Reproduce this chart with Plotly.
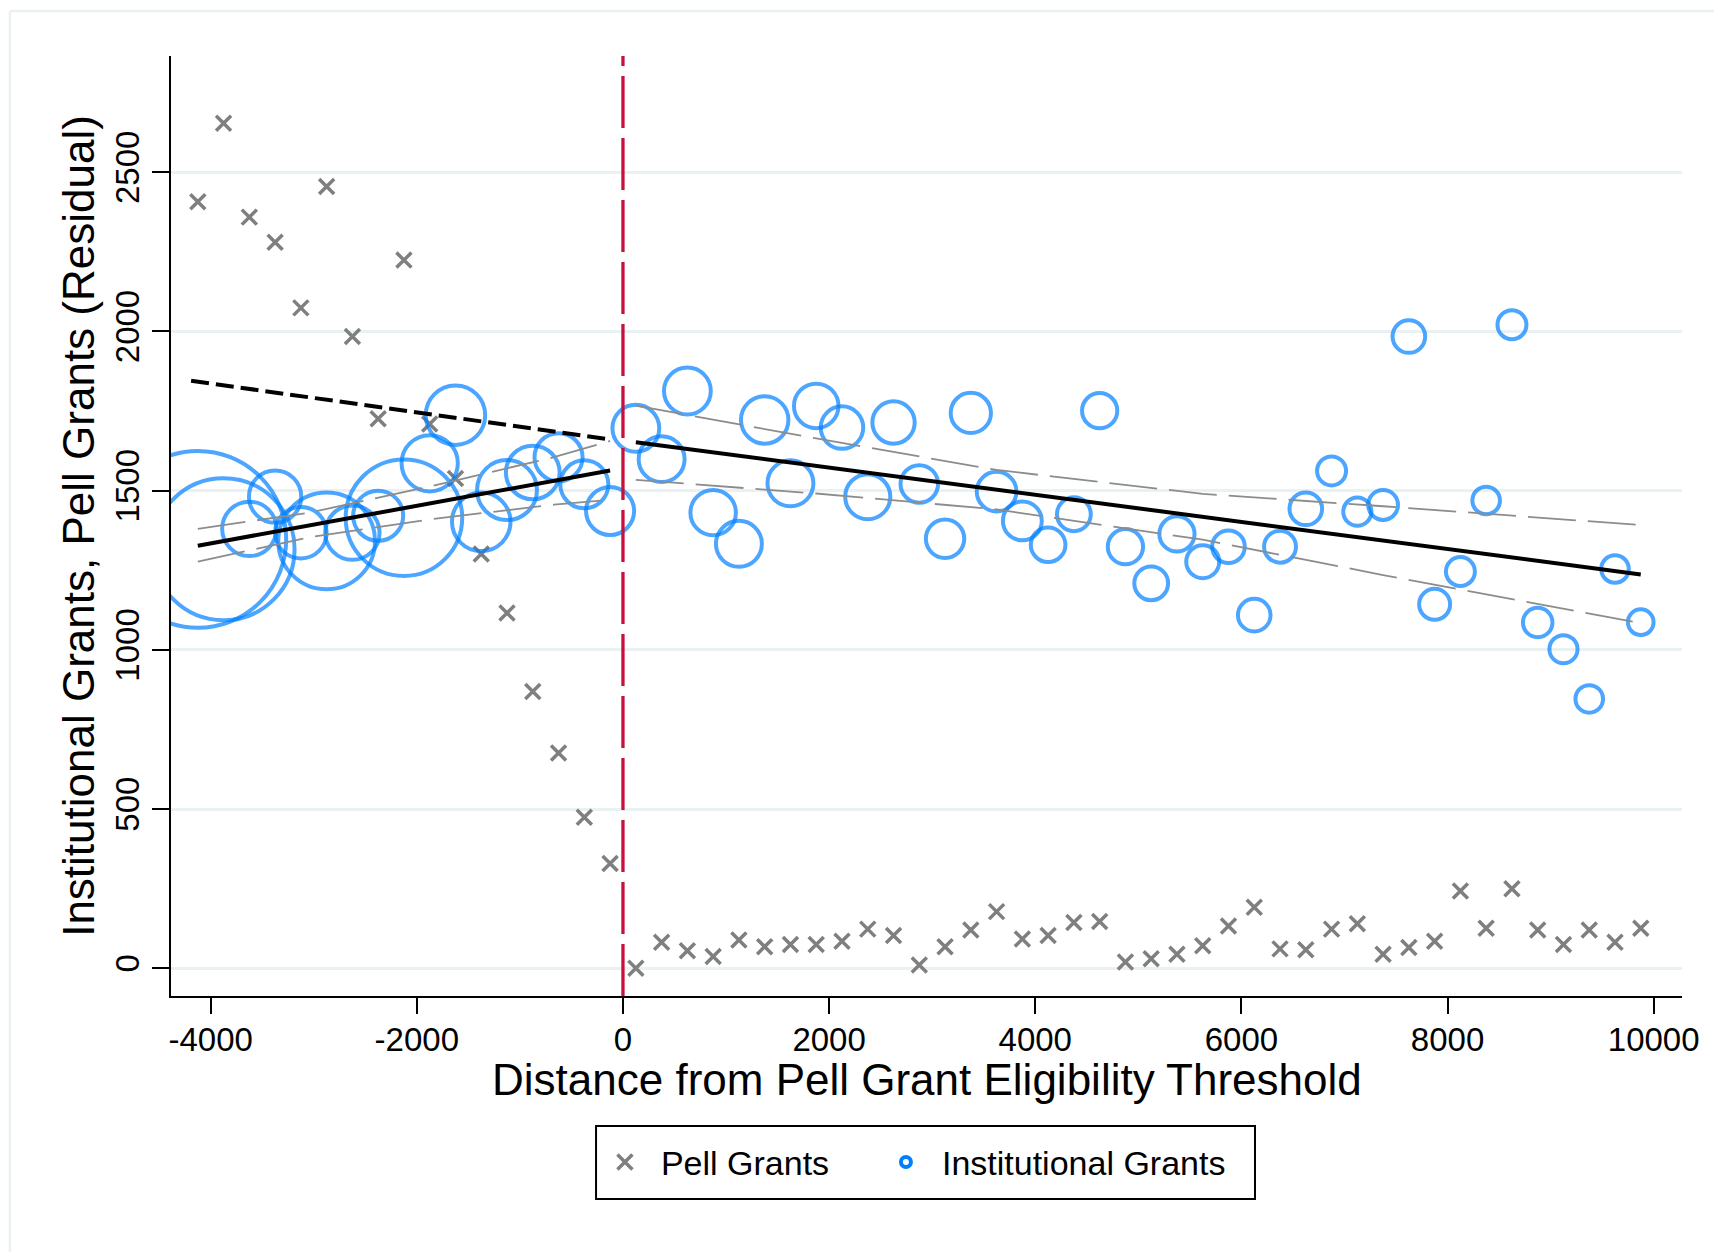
import plotly.graph_objects as go

# ---------------- data ----------------
bins_left = [-4125, -3875, -3625, -3375, -3125, -2875, -2625, -2375, -2125,
             -1875, -1625, -1375, -1125, -875, -625, -375, -125]
bins_right = [125, 375, 625, 875, 1125, 1375, 1625, 1875, 2125, 2375,
              2625, 2875, 3125, 3375, 3625, 3875, 4125, 4375, 4625, 4875,
              5125, 5375, 5625, 5875, 6125, 6375, 6625, 6875, 7125, 7375,
              7625, 7875, 8125, 8375, 8625, 8875, 9125, 9375, 9625, 9875]

pell_left = [2407, 2654, 2359, 2280, 2074, 2455, 1984, 1726, 2224,
             1709, 1538, 1301, 1116, 869, 676, 474, 329]
pell_right = [0, 82, 55, 37, 89, 68, 75, 75, 85, 123,
              103, 10, 68, 120, 178, 92, 103, 144, 147, 20,
              30, 44, 71, 133, 192, 61, 58, 123, 140, 44,
              65, 85, 243, 126, 250, 120, 75, 120, 82, 126]

inst_left = [1347, 1316, 1380, 1481, 1368, 1342, 1368, 1421, 1415,
             1586, 1737, 1402, 1502, 1557, 1605, 1520, 1436]
inst_right = [1696, 1599, 1813, 1431, 1333, 1722, 1523, 1766, 1698, 1481,
              1714, 1521, 1349, 1744, 1497, 1405, 1330, 1426, 1751, 1324,
              1209, 1364, 1277, 1324, 1109, 1324, 1443, 1562, 1434, 1455,
              1984, 1143, 1246, 1469, 2021, 1086, 1002, 846, 1254, 1087]

# relative bin weights (marker area)
w_left = [3906, 2520, 369, 342, 331, 1170, 369, 313, 1697,
          396, 441, 428, 449, 361, 289, 289, 289]
w_right = [274, 264, 274, 258, 264, 281, 264, 248, 226, 254,
           224, 176, 184, 203, 197, 189, 150, 143, 155, 155,
           143, 155, 136, 133, 133, 127, 133, 105, 99, 111,
           133, 120, 105, 95, 105, 109, 99, 95, 95, 82]

# linear fits and confidence bands
fit_left_x = [-4125, -125]
fit_left_y = [1327, 1563]
ci_left_x = [-4125, -3040, -1850, -670, -125]
ci_left_lo = [1277, 1354, 1411, 1456, 1471]
ci_left_hi = [1380, 1431, 1515, 1605, 1656]

fit_right_x = [125, 9875]
fit_right_y = [1652, 1237]
ci_right_x = [125, 1875, 3625, 5625, 7375, 9875]
ci_right_lo = [1534, 1491, 1441, 1346, 1235, 1084]
ci_right_hi = [1767, 1664, 1565, 1490, 1451, 1392]

# counterfactual (extrapolated right-side fit)
cf_x = [-4190, -125]
cf_y = [1845, 1661]

x_ticks = [-4000, -2000, 0, 2000, 4000, 6000, 8000, 10000]
x_ticktext = ["-4000", "-2000", "0", "2000", "4000", "6000", "8000", "10000"]
y_ticks = [0, 500, 1000, 1500, 2000, 2500]
y_ticktext = ["0", "500", "1000", "1500", "2000", "2500"]

# ---------------- styles ----------------
FONT = "Liberation Sans, Arial, sans-serif"
BLUE = "#0080FF"
GRAY = "#7F7F7F"
CIGRAY = "#8C8C8C"
RED = "#C8103C"
GRID = "#EAF1F3"

fig = go.Figure()

# Pell grants (x markers)
fig.add_trace(go.Scatter(
    x=bins_left + bins_right, y=pell_left + pell_right,
    mode="markers", name="Pell Grants", legendwidth=204,
    marker=dict(symbol="x-thin", size=15, color=GRAY,
                line=dict(width=3.5, color=GRAY)),
))

# Institutional grants (weighted hollow circles)
fig.add_trace(go.Scatter(
    x=bins_left + bins_right, y=inst_left + inst_right,
    mode="markers", name="Institutional Grants", showlegend=False,
    marker=dict(symbol="circle-open", size=w_left + w_right, sizemode="area",
                sizeref=0.25, color=BLUE, line=dict(width=4, color=BLUE)),
))
# legend key for the weighted circles (fixed-size symbol)
fig.add_trace(go.Scatter(
    x=[None], y=[None], mode="markers", name="Institutional Grants",
    legendwidth=295,
    marker=dict(symbol="circle-open", size=10, color=BLUE,
                line=dict(width=4, color=BLUE)),
))

# confidence bands
for xs, ys in [(ci_left_x, ci_left_lo), (ci_left_x, ci_left_hi),
               (ci_right_x, ci_right_lo), (ci_right_x, ci_right_hi)]:
    fig.add_trace(go.Scatter(x=xs, y=ys, mode="lines", showlegend=False,
                             hoverinfo="skip",
                             line=dict(color=CIGRAY, width=1.8, dash="48px,12px")))

# fits
fig.add_trace(go.Scatter(x=fit_left_x, y=fit_left_y, mode="lines", showlegend=False,
                         line=dict(color="black", width=4)))
fig.add_trace(go.Scatter(x=fit_right_x, y=fit_right_y, mode="lines", showlegend=False,
                         line=dict(color="black", width=4)))
fig.add_trace(go.Scatter(x=cf_x, y=cf_y, mode="lines", showlegend=False,
                         line=dict(color="black", width=4, dash="18px,7px")))

# threshold line
fig.add_shape(type="line", xref="x", yref="paper", x0=0, x1=0, y0=0, y1=1,
              line=dict(color=RED, width=3.3, dash="52px,10px"))

# outer graph-region frame (left + top edges visible)
fig.add_shape(type="line", xref="paper", yref="paper", x0=-0.1066, x1=-0.1066,
              y0=-0.4, y1=1.0479, line=dict(color=GRID, width=2.5))
fig.add_shape(type="line", xref="paper", yref="paper", x0=-0.1066, x1=1.1,
              y0=1.0479, y1=1.0479, line=dict(color=GRID, width=2.5))

# legend frame
fig.add_shape(type="rect", xref="paper", yref="paper", x0=0.2813, x1=0.7174,
              y0=-0.2160, y1=-0.1383, line=dict(color="black", width=2),
              fillcolor="rgba(0,0,0,0)")

# x-axis title
fig.add_annotation(text="Distance from Pell Grant Eligibility Threshold",
                   xref="paper", yref="paper", x=0.5, y=-0.0883,
                   xanchor="center", yanchor="middle", showarrow=False,
                   font=dict(size=44, family=FONT, color="black"))

fig.update_layout(
    width=1714, height=1252,
    margin=dict(l=171, r=32, t=56, b=256),
    paper_bgcolor="white", plot_bgcolor="white",
    font=dict(family=FONT, color="black"),
    showlegend=True,
    legend=dict(orientation="h", x=0.2766, xanchor="left", y=-0.1771,
                yanchor="middle", borderwidth=0, bgcolor="rgba(0,0,0,0)",
                font=dict(size=34, family=FONT), itemsizing="trace",
                itemwidth=62, traceorder="normal"),
    xaxis=dict(range=[-4385, 10275], tickvals=x_ticks, ticktext=x_ticktext,
               showgrid=False, zeroline=False, showline=True, linecolor="black",
               linewidth=2, ticks="outside", ticklen=16, tickwidth=2,
               tickcolor="black", tickfont=dict(size=33, family=FONT),
               ticklabelstandoff=-3),
    yaxis=dict(range=[-87, 2865], tickvals=y_ticks, ticktext=y_ticktext,
               showgrid=True, gridcolor=GRID,
               gridwidth=2.5, zeroline=False, showline=True, linecolor="black",
               linewidth=2, ticks="outside", ticklen=17, tickwidth=2,
               tickcolor="black", tickangle=-90,
               tickfont=dict(size=33, family=FONT),
               title=dict(text="Institutional Grants, Pell Grants (Residual)",
                          font=dict(size=44, family=FONT), standoff=0)),
)

fig.write_html("out.html")
